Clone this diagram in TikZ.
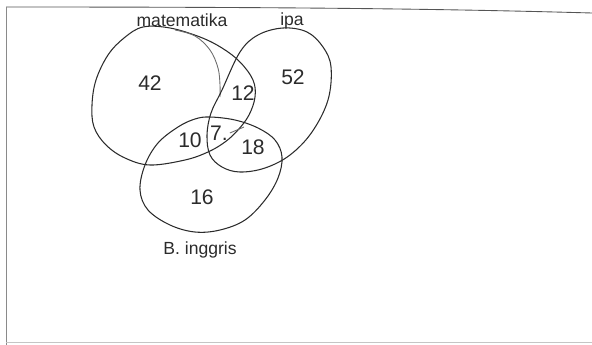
\documentclass[tikz,border=0pt]{standalone}
\usepackage{fontspec}
\setmainfont{Liberation Sans}
\usepackage{tikz}
\usetikzlibrary{positioning}
\definecolor{Pencil}{HTML}{2B2B2B}
\definecolor{Faint}{HTML}{8A8A8A}

\begin{document}
\begin{tikzpicture}[
          x=0.02cm, y=-0.02cm,
          font=\normalsize,
          setline/.style={draw=Pencil, line width=0.6pt, line join=round},
          redraw/.style={draw=Pencil!70, line width=0.5pt},
          frameline/.style={draw=Faint, line width=0.5pt},
          num/.style={font=\large, text=Pencil, inner sep=1pt},
          lbl/.style={text=Pencil, inner sep=1pt}
        ]
          \useasboundingbox (0,0) rectangle (592,345);
          \draw[frameline, draw=Pencil!80] (6,7) .. controls (300,7) and (450,9) .. (592,13);
          \draw[frameline] (6,7) -- (6,345);
          \draw[frameline, draw=Faint!50] (6,342) -- (592,342);

          % matematika
          \draw[setline] plot[smooth cycle, tension=0.6] coordinates {
            (143,27) (170,28) (200,37) (222,48) (240,62) (253,80) (255,97)
            (249,115) (238,130) (225,142) (208,152) (185,160) (150,165)
            (125,158) (106,145) (94,127) (92,105) (96,80) (108,55) (124,38)};
          \draw[redraw] plot[smooth, tension=0.6] coordinates {
            (175,30) (195,36) (210,50) (218,68) (220,85) (220,97)};

          % ipa
          \draw[setline] plot[smooth cycle, tension=0.6] coordinates {
            (283,28) (307,32) (323,47) (331,67) (328,100) (312,132) (290,155)
            (265,168) (240,172) (222,167) (210,155) (207,135) (211,113)
            (222,90) (240,52) (258,35)};

          % b inggris
          \draw[setline] plot[smooth cycle, tension=0.6] coordinates {
            (210,117) (235,120) (258,128) (275,140) (282,157) (278,178)
            (265,200) (245,220) (220,230) (195,232) (170,225) (148,210)
            (140,190) (145,165) (158,143) (178,127) (195,119)};

          \node[lbl] (mat) at (182,20) {matematika};
          \node[lbl] (ipa) at (292,21) {ipa};
          \node[lbl] (ing) at (200,250) {B. inggris};

          \node[num] (n42) at (150,83) {42};
          \node[num] (n52) at (293,77) {52};
          \node[num] (n12) at (243,93) {12};
          \node[num] (n10) at (190,140) {10};
          \node[num] (n7) at (219,133) {7.};
          \node[num] (n18) at (253,147) {18};
          \node[num] (n16) at (202,197) {16};

          \coordinate (tip) at (244,127);
          \draw[redraw] (n7.east) -- (tip);
        \end{tikzpicture}
\end{document}
